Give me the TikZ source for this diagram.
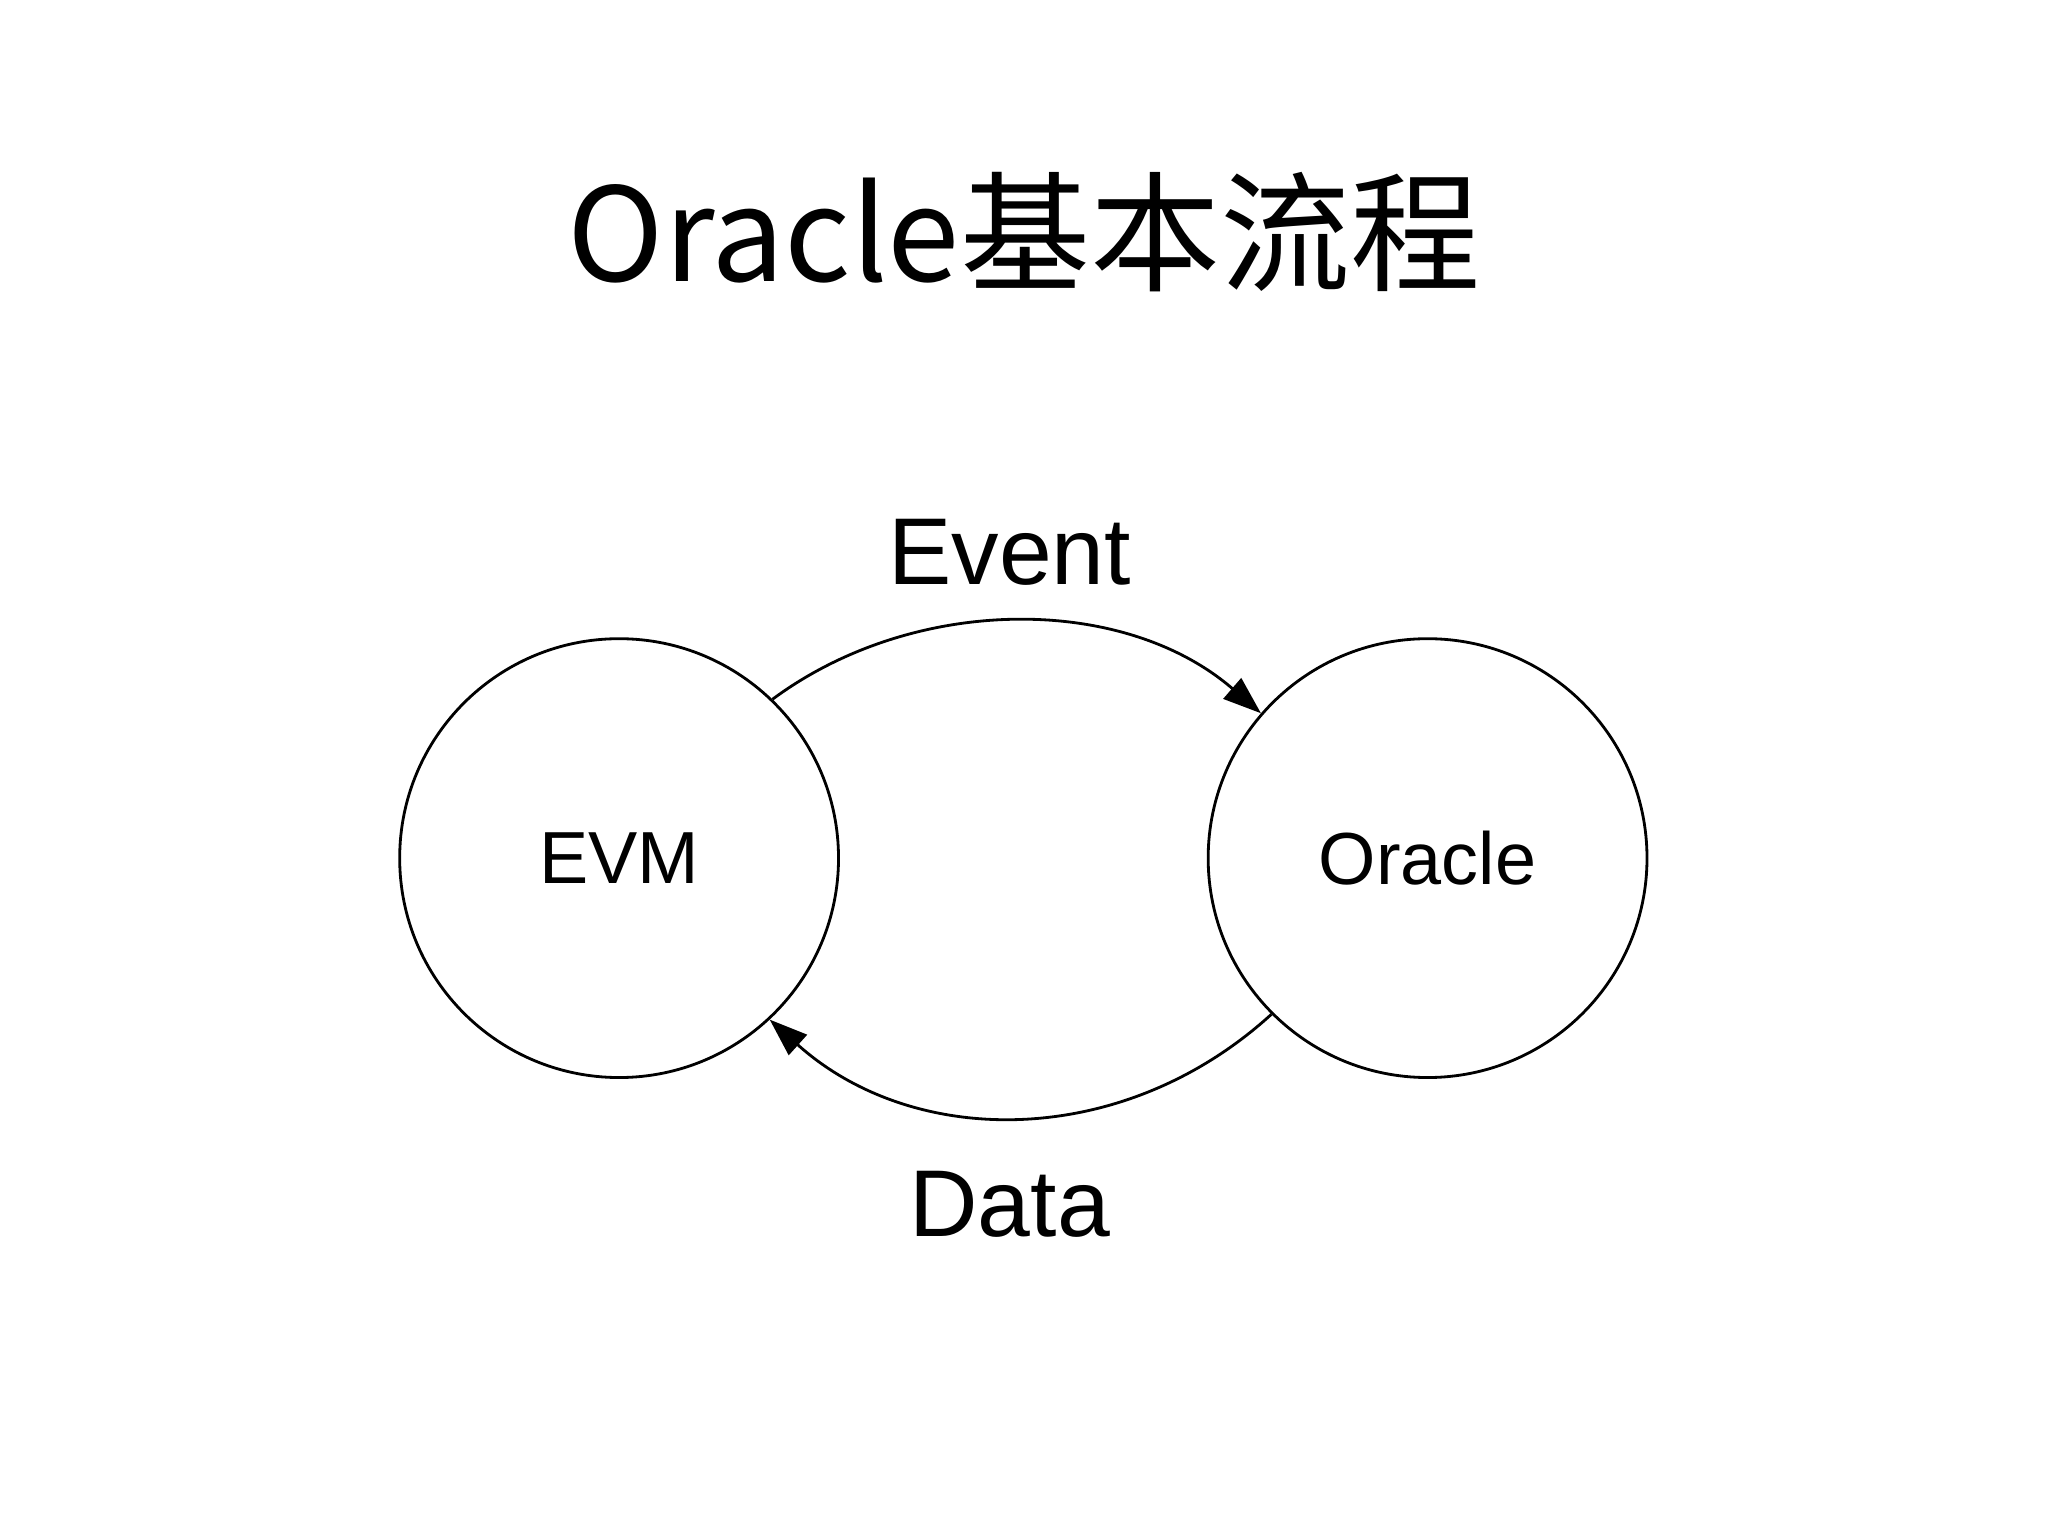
\documentclass[tikz,border=0pt]{standalone}
\usepackage{fontspec}
\setmainfont{Liberation Sans}
\newfontfamily\cjk{Noto Sans CJK SC}[Scale=1]
\usetikzlibrary{arrows.meta}
\begin{document}
\begin{tikzpicture}[x=0.013061cm,y=-0.013061cm,
  st/.style={circle,draw,line width=0.8pt,minimum size=336*0.013061cm,inner sep=0pt,font=\fontsize{21}{24}\selectfont},
  con/.style={line width=0.8pt,-{Triangle[length=0.38cm,width=0.27cm]}},
  lab/.style={font=\fontsize{27}{30}\selectfont}]
\useasboundingbox (0,0) rectangle (1568,1176);
\node[font=\cjk\fontsize{37}{40}\selectfont] (title) at (784,178) {Oracle基本流程};
\node[st] (evm) at (474,657) {EVM};
\node[st] (orc) at (1093,657) {Oracle};
\node[lab] (ev) at (773,423) {Event};
\node[lab] (da) at (773,922) {Data};
\draw[con] (evm.46) .. controls (700,455) and (860,455) .. (orc.139);
\draw[con] (orc.-135) .. controls (860,880) and (700,880) .. (evm.-47);
\end{tikzpicture}
\end{document}
